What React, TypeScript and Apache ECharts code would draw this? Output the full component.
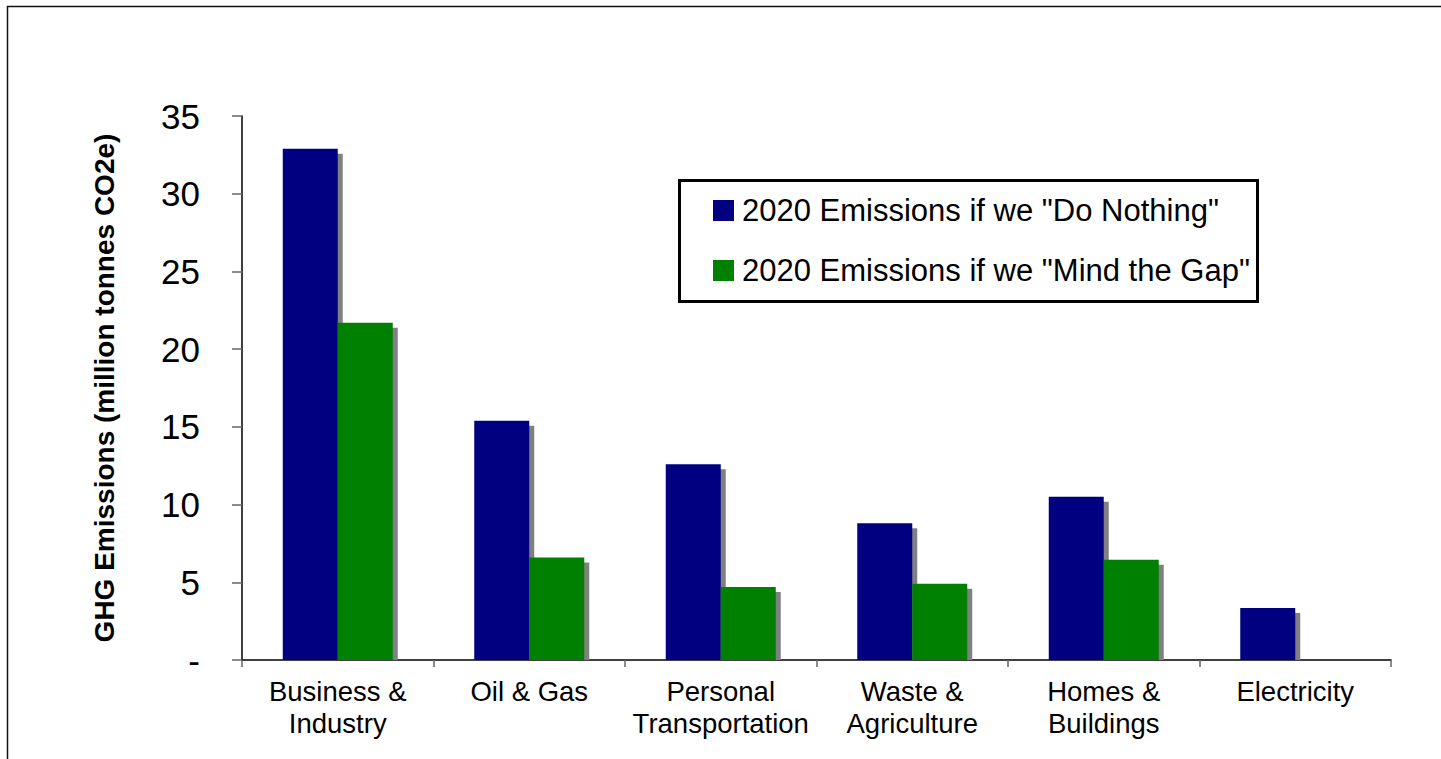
import React, { useEffect, useRef } from "react";
import * as echarts from "echarts";

const categories = [
  "Business &\nIndustry",
  "Oil & Gas",
  "Personal\nTransportation",
  "Waste &\nAgriculture",
  "Homes &\nBuildings",
  "Electricity",
];
const seriesNames = [
  '2020 Emissions if we "Do Nothing"',
  '2020 Emissions if we "Mind the Gap"',
];
const doNothing = [32.9, 15.4, 12.6, 8.8, 10.5, 3.35];
const mindTheGap = [21.7, 6.6, 4.7, 4.9, 6.45, 0];
const yTicks = { min: 0, max: 35, interval: 5 };

const FONT = "'Liberation Sans', Arial, sans-serif";
const BAR_W = 55;
const SHADOW = 5;

function shadowRender(offset: number) {
  return (params: any, api: any) => {
    const idx = api.value(0);
    const v = api.value(1);
    if (!v) return null;
    const top = api.coord([idx, v]);
    const zero = api.coord([idx, 0]);
    const x = top[0] + offset - BAR_W / 2 + SHADOW;
    const y = top[1] + SHADOW;
    const h = zero[1] - y;
    if (h <= 0) return null;
    return {
      type: "rect",
      shape: { x, y, width: BAR_W, height: h },
      style: { fill: "#808080" },
    };
  };
}

export default function App() {
  const ref = useRef<HTMLDivElement>(null);
  useEffect(() => {
    if (!ref.current) return;
    const chart = echarts.init(ref.current, null, { renderer: "svg" });
    chart.setOption({
      animation: false,
      backgroundColor: "#ffffff",
      textStyle: { fontFamily: FONT },
      grid: { left: 242, right: 50, top: 116, bottom: 99, containLabel: false },
      legend: {
        data: seriesNames,
        orient: "vertical",
        left: 713,
        top: 195,
        padding: 0,
        itemWidth: 21,
        itemHeight: 21,
        itemGap: 29,
        icon: "rect",
        selectedMode: false,
        textStyle: {
          fontFamily: FONT,
          fontSize: 31,
          color: "#000",
          lineHeight: 31,
          padding: [0, 0, 0, 3],
        },
      },
      graphic: [
        {
          type: "rect",
          shape: { x: 7.5, y: 6.5, width: 1500, height: 800 },
          style: { fill: "none", stroke: "#111", lineWidth: 1.5 },
          silent: true,
          z: 0,
        },
        {
          type: "rect",
          shape: { x: 679.5, y: 180.5, width: 578, height: 121 },
          style: { fill: "none", stroke: "#000", lineWidth: 3 },
          silent: true,
          z: 10,
        },
      ],
      xAxis: {
        type: "category",
        data: categories,
        axisLine: { lineStyle: { color: "#000", width: 1.5 } },
        axisTick: { show: true, length: 7, lineStyle: { color: "#666", width: 1.5 } },
        axisLabel: {
          color: "#000",
          fontSize: 27.5,
          fontFamily: FONT,
          lineHeight: 32,
          margin: 15,
          interval: 0,
        },
        splitLine: { show: false },
      },
      yAxis: {
        type: "value",
        min: yTicks.min,
        max: yTicks.max,
        interval: yTicks.interval,
        name: "GHG Emissions (million tonnes CO2e)",
        nameLocation: "middle",
        nameGap: 124,
        nameTextStyle: {
          fontFamily: FONT,
          fontSize: 28,
          fontWeight: "bold",
          color: "#000",
        },
        axisLine: { show: true, lineStyle: { color: "#000", width: 1.5 } },
        axisTick: { show: true, length: 10, lineStyle: { color: "#666", width: 1.5 } },
        axisLabel: {
          color: "#000",
          fontSize: 35,
          fontFamily: FONT,
          margin: 42,
          formatter: (v: number) => (v === 0 ? "-" : String(v)),
        },
        splitLine: { show: false },
      },
      series: [
        {
          type: "custom",
          name: "shadow1",
          renderItem: shadowRender(-BAR_W / 2),
          data: doNothing.map((v, i) => [i, v]),
          encode: { x: 0, y: 1 },
          z: 1,
          silent: true,
        },
        {
          type: "custom",
          name: "shadow2",
          renderItem: shadowRender(BAR_W / 2),
          data: mindTheGap.map((v, i) => [i, v]),
          encode: { x: 0, y: 1 },
          z: 1,
          silent: true,
        },
        {
          type: "bar",
          name: seriesNames[0],
          data: doNothing,
          barWidth: BAR_W,
          barGap: "0%",
          itemStyle: { color: "#000080" },
          z: 3,
        },
        {
          type: "bar",
          name: seriesNames[1],
          data: mindTheGap,
          barWidth: BAR_W,
          barGap: "0%",
          itemStyle: { color: "#008000" },
          z: 3,
        },
      ],
    });
    return () => chart.dispose();
  }, []);
  return (
    <div
      ref={ref}
      style={{ position: "absolute", left: 0, top: 0, width: 1441, height: 759 }}
    />
  );
}
